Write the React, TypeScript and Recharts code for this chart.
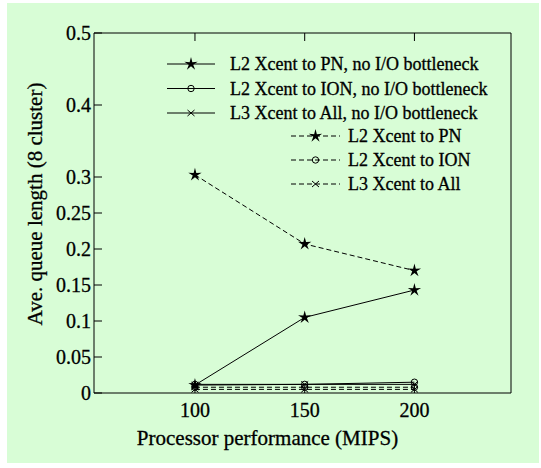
import React from 'react';
import { LineChart, Line, XAxis, YAxis, Legend } from 'recharts';

const mips = [100, 150, 200];
const pnNoIO = [0.011, 0.105, 0.143];
const ionNoIO = [0.012, 0.012, 0.015];
const allNoIO = [0.011, 0.012, 0.012];
const pnIO = [0.303, 0.207, 0.17];
const ionIO = [0.008, 0.008, 0.008];
const allIO = [0.005, 0.005, 0.005];

const xTicks = [100, 150, 200];
const yTicks = [0, 0.05, 0.1, 0.15, 0.2, 0.25, 0.3, 0.4, 0.5];

type MarkerKind = 'star' | 'circle' | 'cross';

const series: { key: string; name: string; marker: MarkerKind; dashed: boolean; values: number[] }[] = [
  { key: 'pnNoIO', name: 'L2 Xcent to PN, no I/O bottleneck', marker: 'star', dashed: false, values: pnNoIO },
  { key: 'ionNoIO', name: 'L2 Xcent to ION, no I/O bottleneck', marker: 'circle', dashed: false, values: ionNoIO },
  { key: 'allNoIO', name: 'L3 Xcent to All, no I/O bottleneck', marker: 'cross', dashed: false, values: allNoIO },
  { key: 'pnIO', name: 'L2 Xcent to PN', marker: 'star', dashed: true, values: pnIO },
  { key: 'ionIO', name: 'L2 Xcent to ION', marker: 'circle', dashed: true, values: ionIO },
  { key: 'allIO', name: 'L3 Xcent to All', marker: 'cross', dashed: true, values: allIO },
];

const data = mips.map((m, i) => {
  const row: Record<string, number> = { mips: m };
  series.forEach((s) => (row[s.key] = s.values[i]));
  return row;
});

const FONT = '"Liberation Serif", "DejaVu Serif", serif';
const INK = '#000';
const BG = '#d8fdd6';
const DASH = '5 3';
const TEXT_STROKE = 0.3;

function starPoints(cx: number, cy: number, ro: number, ri: number) {
  const pts: string[] = [];
  for (let i = 0; i < 10; i++) {
    const r = i % 2 === 0 ? ro : ri;
    const a = -Math.PI / 2 + (i * Math.PI) / 5;
    pts.push(`${cx + r * Math.cos(a)},${cy + r * Math.sin(a)}`);
  }
  return pts.join(' ');
}

function Marker({ kind, cx, cy }: { kind: MarkerKind; cx: number; cy: number }) {
  if (kind === 'star') return <polygon points={starPoints(cx, cy, 7, 2.3)} fill={INK} stroke="none" />;
  if (kind === 'circle') return <circle cx={cx} cy={cy} r={3.2} fill="none" stroke={INK} strokeWidth={1} />;
  return (
    <g stroke={INK} strokeWidth={1}>
      <line x1={cx - 3.5} y1={cy - 3} x2={cx + 3.5} y2={cy + 3} />
      <line x1={cx - 3.5} y1={cy + 3} x2={cx + 3.5} y2={cy - 3} />
    </g>
  );
}

// two gnuplot-style key blocks drawn over the plot
function KeyBlock(props: any) {
  const payload = props.payload || [];
  const solid = series.filter((s) => !s.dashed);
  const dashed = series.filter((s) => s.dashed);
  const row = (s: (typeof series)[number], i: number) => {
    const inPayload = payload.find((p: any) => p.dataKey === s.key);
    const label = inPayload ? inPayload.value : s.name;
    const y = s.dashed ? 136 + i * 24 : 64 + i * 24.5;
    const x0 = s.dashed ? 291 : 167;
    const x1 = s.dashed ? 340 : 215;
    const tx = s.dashed ? 348 : 230;
    return (
      <g key={s.key}>
        <line x1={x0} y1={y} x2={x1} y2={y} stroke={INK} strokeWidth={1} strokeDasharray={s.dashed ? DASH : undefined} />
        <Marker kind={s.marker} cx={(x0 + x1) / 2} cy={y} />
        <text x={tx} y={y} dy="0.34em" style={{ fontFamily: FONT }} fontSize={18} fill={INK} stroke={INK} strokeWidth={TEXT_STROKE}>
          {label}
        </text>
      </g>
    );
  };
  return (
    <svg width={541} height={468} style={{ position: 'absolute', left: 0, top: 0 }}>
      {solid.map(row)}
      {dashed.map(row)}
    </svg>
  );
}

const tickStyle = { fill: INK, fontSize: 20, stroke: INK, strokeWidth: TEXT_STROKE, style: { fontFamily: FONT } };

export default function App() {
  return (
    <div style={{ position: 'absolute', left: 0, top: 0, width: 541, height: 468, background: '#fff', fontFamily: FONT }}>
      <div style={{ position: 'absolute', left: 7, top: 3, width: 532, height: 460, background: BG }} />
      <div style={{ position: 'absolute', left: 0, top: 0 }}>
        <LineChart
          width={541}
          height={468}
          data={data}
          margin={{ top: 0, right: 0, bottom: 0, left: 24 }}
          style={{ fontFamily: FONT }}
        >
          <XAxis
            xAxisId="b"
            dataKey="mips"
            type="number"
            domain={[54, 244]}
            ticks={xTicks}
            height={75}
            tickSize={-8}
            tickMargin={18}
            stroke={INK}
            tick={tickStyle}
            label={{
              content: (p: any) => {
                const vb = p.viewBox;
                return (
                  <text
                    x={vb.x + vb.width / 2 - 35}
                    y={vb.y + 52}
                    textAnchor="middle"
                    style={{ fontFamily: FONT }}
                    fontSize={21}
                    fill={INK}
                    stroke={INK}
                    strokeWidth={TEXT_STROKE}
                  >
                    Processor performance (MIPS)
                  </text>
                );
              },
            }}
          />
          <XAxis
            xAxisId="t"
            orientation="top"
            dataKey="mips"
            type="number"
            domain={[54, 244]}
            ticks={xTicks}
            height={33}
            tickSize={-8}
            tickFormatter={() => ''}
            stroke={INK}
          />
          <YAxis
            yAxisId="l"
            type="number"
            domain={[0, 0.5]}
            ticks={yTicks}
            width={70}
            tickSize={-8}
            tickMargin={11}
            stroke={INK}
            tick={tickStyle}
            tickFormatter={(v: number) => String(v)}
            label={{
              content: (p: any) => {
                const vb = p.viewBox;
                const cx = vb.x + 11;
                const cy = vb.y + vb.height / 2 - 9;
                return (
                  <text
                    x={cx}
                    y={cy}
                    transform={`rotate(-90, ${cx}, ${cy})`}
                    textAnchor="middle"
                    dominantBaseline="central"
                    style={{ fontFamily: FONT }}
                    fontSize={21}
                    fill={INK}
                    stroke={INK}
                    strokeWidth={TEXT_STROKE}
                  >
                    Ave. queue length (8 cluster)
                  </text>
                );
              },
            }}
          />
          <YAxis
            yAxisId="r"
            orientation="right"
            type="number"
            domain={[0, 0.5]}
            ticks={yTicks}
            width={30}
            tickSize={-8}
            tickFormatter={() => ''}
            stroke={INK}
          />
          <Legend
            verticalAlign="middle"
            align="center"
            layout="vertical"
            content={KeyBlock}
            wrapperStyle={{ position: 'absolute', left: 0, top: 0, width: 541, height: 468 }}
          />
          {series.map((s) => (
            <Line
              key={s.key}
              xAxisId="b"
              yAxisId="l"
              type="linear"
              dataKey={s.key}
              name={s.name}
              stroke={INK}
              strokeWidth={1}
              strokeDasharray={s.dashed ? DASH : undefined}
              isAnimationActive={false}
              dot={(p: any) => (
                <g key={`${s.key}-${p.index}`}>
                  <Marker kind={s.marker} cx={p.cx} cy={p.cy} />
                </g>
              )}
              activeDot={false}
            />
          ))}
        </LineChart>
      </div>
    </div>
  );
}
